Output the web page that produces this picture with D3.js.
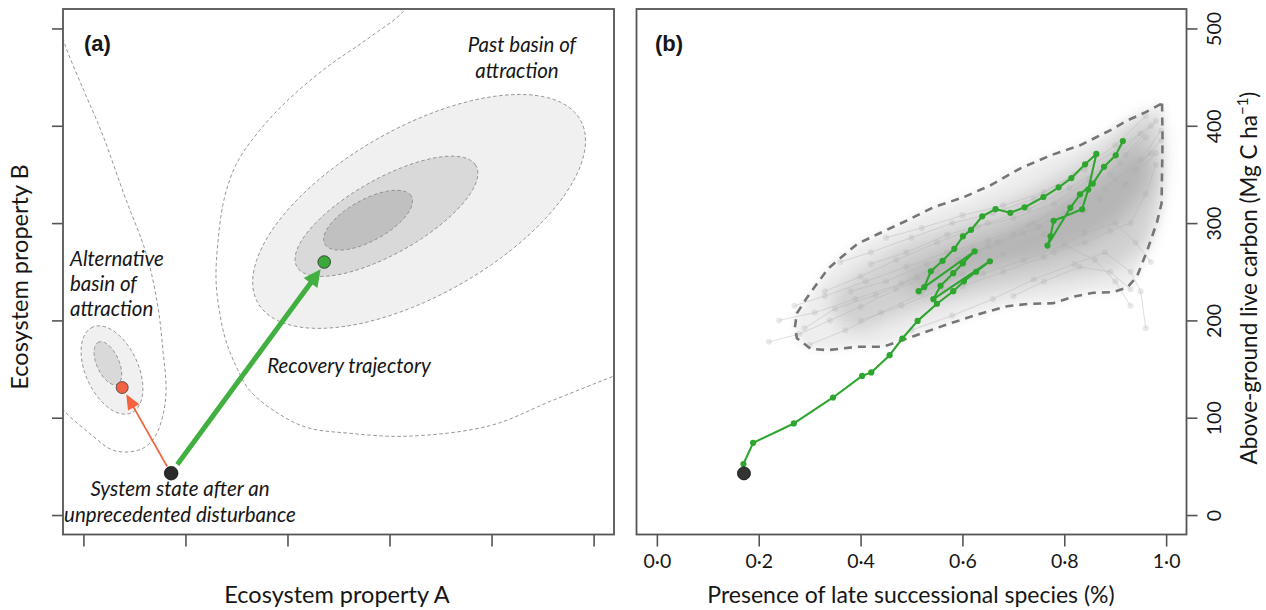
<!DOCTYPE html>
<html>
<head>
<meta charset="utf-8">
<script src="https://d3js.org/d3.v7.min.js"></script>
<style>
  body { margin: 0; background: #fff; }
  svg { display: block; }
  text { font-family: Lato, "Open Sans", sans-serif; fill: #161616; }
  text.panel { font-family: "Liberation Sans", Arial, sans-serif; font-weight: bold; }
</style>
</head>
<body>
<svg id="fig" width="1266" height="610"></svg>
<script>
// ---- panel (a): conceptual basins, data units on a 0-5 grid ----
const ticksA = [0, 1, 2, 3, 4, 5];

// filled basins: centre, semi-axes, tilt (degrees)
const pastBasin = [
  { cx: 3.29, cy: 3.12, a: 1.84, b: 0.85, tilt: 31.4 },
  { cx: 2.97, cy: 3.07, a: 1.02, b: 0.38, tilt: 31.0 },
  { cx: 2.79, cy: 3.03, a: 0.49, b: 0.21, tilt: 30.5 }
];
const altBasin = [
  { cx: 0.28, cy: 1.49, a: 0.48, b: 0.26, tilt: 112.7 },
  { cx: 0.24, cy: 1.56, a: 0.235, b: 0.11, tilt: 112.3 }
];

// outer dashed contours
const altOuter = [
  [-0.25, 5.08], [-0.18, 4.83], [0.005, 4.36], [0.18, 3.93], [0.40, 3.29], [0.62, 2.67],
  [0.73, 2.14], [0.78, 1.69], [0.81, 1.28], [0.78, 1.03], [0.70, 0.80], [0.59, 0.69],
  [0.46, 0.65], [0.28, 0.67], [0.06, 0.84], [-0.18, 1.06], [-0.33, 1.26]
];
const pastOuter = [
  [3.22, 5.34], [3.14, 5.18], [2.78, 4.89], [2.37, 4.59], [1.99, 4.25], [1.71, 3.93],
  [1.50, 3.61], [1.38, 3.25], [1.32, 2.82], [1.30, 2.41], [1.34, 2.05], [1.40, 1.78],
  [1.50, 1.52], [1.63, 1.28], [1.90, 1.05], [2.19, 0.90], [2.61, 0.84], [3.18, 0.81],
  [3.99, 0.92], [4.58, 1.17], [5.18, 1.42], [5.36, 1.49]
];

const disturbedState = [0.86, 0.43];
const altState = [0.38, 1.31];
const pastState = [2.36, 2.60];
const altArrow = { from: [0.82, 0.50], to: [0.42, 1.24] };
const recoveryArrow = { from: [0.92, 0.52], to: [2.325, 2.525] };

// ---- panel (b): simulated recovery ----
const xTicksB = [0, 0.2, 0.4, 0.6, 0.8, 1.0];
const xTickLabelsB = ["0·0", "0·2", "0·4", "0·6", "0·8", "1·0"];
const yTicksB = [0, 100, 200, 300, 400, 500];

const startB = [0.171, 42.8];

const greenPath = [
  [0.170, 52.4], [0.189, 74.2], [0.269, 94.1], [0.346, 120.8], [0.403, 143.0], [0.421, 146.5],
  [0.457, 164.3], [0.482, 181.4], [0.512, 199.5], [0.550, 217.1], [0.582, 230.0], [0.603, 240.2],
  [0.627, 250.0], [0.654, 260.8], [0.543, 221.8], [0.557, 235.6], [0.582, 248.5], [0.601, 258.7],
  [0.624, 271.0], [0.514, 230.0], [0.525, 234.1], [0.538, 250.5], [0.561, 261.3], [0.584, 273.6],
  [0.601, 286.4], [0.617, 293.1], [0.639, 307.0], [0.665, 314.4], [0.694, 310.6], [0.722, 316.2],
  [0.759, 326.8], [0.789, 336.8], [0.814, 346.3], [0.841, 360.4], [0.863, 371.1], [0.847, 334.4],
  [0.835, 314.2], [0.779, 302.4], [0.773, 286.4], [0.767, 276.9], [0.812, 315.7], [0.831, 329.6],
  [0.856, 340.6], [0.878, 357.8], [0.901, 369.6], [0.915, 384.3]
];

const envelope = [
  [0.992, 423.0], [0.993, 385.0], [0.992, 354.2], [0.991, 320.3], [0.982, 300.8], [0.963, 272.1],
  [0.943, 245.4], [0.924, 234.1], [0.896, 229.0], [0.857, 228.4], [0.818, 224.3], [0.778, 217.7],
  [0.733, 217.1], [0.688, 214.6], [0.635, 206.9], [0.571, 196.1], [0.504, 183.8], [0.445, 173.0],
  [0.394, 173.0], [0.335, 169.4], [0.302, 170.9], [0.275, 181.7], [0.271, 193.0], [0.275, 207.4],
  [0.294, 222.8], [0.318, 240.2], [0.337, 253.6], [0.355, 261.8], [0.394, 278.7], [0.433, 288.5],
  [0.492, 302.9], [0.543, 316.2], [0.602, 326.5], [0.655, 338.8], [0.714, 356.3], [0.773, 369.6],
  [0.831, 379.9], [0.890, 395.3], [0.924, 405.5], [0.959, 413.7]
];

// density of the other simulated trajectories
const cloudBand = [
  [0.341, 220.7], [0.400, 251.5], [0.478, 277.2], [0.576, 297.7], [0.675, 318.3], [0.773, 343.9],
  [0.871, 374.7], [0.969, 410.7], [0.988, 395.3], [0.984, 323.4], [0.949, 272.1], [0.890, 251.5],
  [0.792, 241.3], [0.675, 231.0], [0.576, 220.7], [0.478, 205.3], [0.380, 189.9]
];
const cloudCore = [
  [0.478, 241.3], [0.576, 272.1], [0.675, 292.6], [0.773, 318.3], [0.871, 349.1], [0.949, 379.9],
  [0.969, 349.1], [0.910, 302.9], [0.831, 277.2], [0.733, 261.8], [0.635, 251.5], [0.537, 231.0]
];

// a sample of the grey trajectories
const greyRuns = [
  [[0.22,178],[0.28,186],[0.34,200],[0.40,214],[0.47,232],[0.55,250],[0.63,270],[0.72,290],[0.80,310],[0.88,335],[0.95,365],[0.99,395]],
  [[0.30,175],[0.37,190],[0.44,208],[0.52,228],[0.60,248],[0.68,268],[0.76,288],[0.84,312],[0.92,340],[0.98,372]],
  [[0.33,230],[0.40,245],[0.47,262],[0.55,280],[0.63,296],[0.70,305],[0.78,320],[0.85,345],[0.92,370],[0.98,405]],
  [[0.36,260],[0.42,270],[0.50,285],[0.58,300],[0.66,310],[0.74,325],[0.82,350],[0.90,380],[0.96,410]],
  [[0.40,200],[0.48,215],[0.56,232],[0.64,248],[0.72,262],[0.80,278],[0.86,262],[0.90,240],[0.93,215]],
  [[0.50,190],[0.58,205],[0.66,222],[0.74,242],[0.82,258],[0.88,270],[0.93,250],[0.95,230],[0.96,192]],
  [[0.27,215],[0.33,225],[0.41,240],[0.49,255],[0.57,270],[0.65,282],[0.73,298],[0.81,318],[0.89,350],[0.96,388]],
  [[0.45,285],[0.52,295],[0.60,308],[0.68,318],[0.76,332],[0.84,355],[0.91,378],[0.97,400]],
  [[0.60,235],[0.68,250],[0.76,265],[0.84,290],[0.90,300],[0.94,280],[0.97,260]],
  [[0.38,230],[0.45,240],[0.53,258],[0.62,274],[0.70,288],[0.79,300],[0.87,325],[0.94,355],[0.99,385]],
  [[0.70,225],[0.76,240],[0.83,255],[0.89,250],[0.93,232]],
  [[0.24,200],[0.31,208],[0.39,222],[0.48,238],[0.56,258],[0.65,276],[0.74,300],[0.83,330],[0.91,362]],
  [[0.29,192],[0.35,212],[0.43,226],[0.51,244],[0.59,262],[0.67,280],[0.75,296],[0.83,322],[0.90,345],[0.97,372]],
  [[0.42,258],[0.49,270],[0.57,288],[0.65,300],[0.73,314],[0.81,336],[0.88,358],[0.95,392]],
  [[0.78,270],[0.84,280],[0.89,292],[0.93,300],[0.96,330],[0.98,360]]
];

// colours
const basinFill = ["#f0f0f0", "#d9d9d9", "#c0c0c0"];
const greenCol = "#2ea52e";
const arrowGreen = "#41b041";
const arrowRed = "#f4623e";
const frameCol = "#555";

const svg = d3.select("#fig");
const defs = svg.append("defs");
defs.append("filter").attr("id", "soft").attr("x", "-20%").attr("y", "-20%").attr("width", "140%").attr("height", "140%")
  .append("feGaussianBlur").attr("stdDeviation", 9);
defs.append("filter").attr("id", "softer").attr("x", "-20%").attr("y", "-20%").attr("width", "140%").attr("height", "140%")
  .append("feGaussianBlur").attr("stdDeviation", 4);

// scales
const plotTop = 9, plotBottom = 534.5;
const xA = d3.scaleLinear().domain([-0.2, 5.2]).range([63, 614]);
const yA = d3.scaleLinear().domain([-0.2, 5.2]).range([plotBottom, plotTop]);
const xB = d3.scaleLinear().domain([-0.04, 1.04]).range([636.5, 1186.5]);
const yB = d3.scaleLinear().domain([-20, 520]).range([plotBottom, plotTop]);

defs.append("clipPath").attr("id", "clipA").append("rect")
  .attr("x", 63).attr("y", plotTop).attr("width", 551).attr("height", plotBottom - plotTop);

function ellipsePts(e) {
  const th = e.tilt * Math.PI / 180;
  return d3.range(0, 360, 4).map(deg => {
    const t = deg * Math.PI / 180;
    return [e.cx + e.a * Math.cos(t) * Math.cos(th) - e.b * Math.sin(t) * Math.sin(th),
            e.cy + e.a * Math.cos(t) * Math.sin(th) + e.b * Math.sin(t) * Math.cos(th)];
  });
}

function drawArrow(g, arr, width, head, half, col) {
  const x1 = xA(arr.from[0]), y1 = yA(arr.from[1]);
  const x2 = xA(arr.to[0]), y2 = yA(arr.to[1]);
  const len = Math.hypot(x2 - x1, y2 - y1), ux = (x2 - x1) / len, uy = (y2 - y1) / len;
  const bx = x2 - ux * head, by = y2 - uy * head;
  g.append("line").attr("x1", x1).attr("y1", y1).attr("x2", bx + ux * 2).attr("y2", by + uy * 2)
    .attr("stroke", col).attr("stroke-width", width);
  g.append("path")
    .attr("d", `M${x2},${y2}L${bx - uy * half},${by + ux * half}L${bx + uy * half},${by - ux * half}Z`)
    .attr("fill", col);
}

// ================= panel (a) =================
const pa = svg.append("g");
const curveA = d3.line().x(d => xA(d[0])).y(d => yA(d[1])).curve(d3.curveCatmullRom.alpha(0.5));
const closedA = d3.line().x(d => xA(d[0])).y(d => yA(d[1])).curve(d3.curveLinearClosed);

const inA = pa.append("g").attr("clip-path", "url(#clipA)");
[altOuter, pastOuter].forEach(c => {
  inA.append("path").attr("d", curveA(c)).attr("fill", "none")
    .attr("stroke", "#8a8a8a").attr("stroke-width", 0.9).attr("stroke-dasharray", "3.5,2.5");
});
[pastBasin, altBasin].forEach(set => {
  set.forEach((e, i) => {
    inA.append("path").attr("d", closedA(ellipsePts(e)))
      .attr("fill", basinFill[i]).attr("stroke", "#8a8a8a")
      .attr("stroke-width", 0.9).attr("stroke-dasharray", "3.5,2.5");
  });
});

drawArrow(inA, altArrow, 1.8, 15, 6.5, arrowRed);
drawArrow(inA, recoveryArrow, 5, 17, 8.5, arrowGreen);

inA.append("circle").attr("cx", xA(altState[0])).attr("cy", yA(altState[1])).attr("r", 6)
  .attr("fill", "#f26243").attr("stroke", "#3a3a3a").attr("stroke-width", 0.8);
inA.append("circle").attr("cx", xA(pastState[0])).attr("cy", yA(pastState[1])).attr("r", 6.3)
  .attr("fill", "#3aa83a").attr("stroke", "#2a2a2a").attr("stroke-width", 0.8);
inA.append("circle").attr("cx", xA(disturbedState[0])).attr("cy", yA(disturbedState[1])).attr("r", 6.8)
  .attr("fill", "#2b2b2b").attr("stroke", "#111").attr("stroke-width", 0.8);

// annotations
const it = (g, x, y, s, anchor) => g.append("text").attr("x", x).attr("y", y)
  .attr("font-style", "italic").attr("font-size", 20.5).attr("text-anchor", anchor || "middle").text(s);
it(pa, 522, 52, "Past basin of");
it(pa, 517, 78, "attraction");
it(pa, 70, 266, "Alternative", "start");
it(pa, 70, 291, "basin of", "start");
it(pa, 70, 316, "attraction", "start");
it(pa, 349, 373, "Recovery trajectory");
it(pa, 180, 496, "System state after an");
it(pa, 180, 522, "unprecedented disturbance");

pa.append("text").attr("class", "panel").attr("x", 84).attr("y", 51).attr("font-size", 22).text("(a)");

pa.append("rect").attr("x", 63).attr("y", plotTop).attr("width", 551).attr("height", plotBottom - plotTop)
  .attr("fill", "none").attr("stroke", frameCol).attr("stroke-width", 1.8);

const axA1 = pa.append("g").attr("transform", "translate(63,0)")
  .call(d3.axisLeft(yA).tickValues(ticksA).tickSize(11).tickSizeOuter(0).tickFormat(""));
const axA2 = pa.append("g").attr("transform", `translate(0,${plotBottom})`)
  .call(d3.axisBottom(xA).tickValues(ticksA).tickSize(12).tickSizeOuter(0).tickFormat(""));
[axA1, axA2].forEach(a => {
  a.select(".domain").remove();
  a.attr("color", frameCol).selectAll("line").attr("stroke-width", 1.6);
});

pa.append("text").attr("x", 337).attr("y", 603).attr("font-size", 23.5).attr("text-anchor", "middle")
  .text("Ecosystem property A");
pa.append("text").attr("transform", "translate(28,277) rotate(-90)").attr("font-size", 23.5)
  .attr("text-anchor", "middle").text("Ecosystem property B");

// ================= panel (b) =================
const pb = svg.append("g");
const lineB = d3.line().x(d => xB(d[0])).y(d => yB(d[1]));
const smoothB = d3.line().x(d => xB(d[0])).y(d => yB(d[1])).curve(d3.curveCatmullRomClosed.alpha(0.5));

// cloud of other trajectories
pb.append("path").attr("d", smoothB(envelope)).attr("fill", "#eeeeee").attr("filter", "url(#softer)");
pb.append("path").attr("d", smoothB(cloudBand)).attr("fill", "#d0d0d0").attr("filter", "url(#soft)");
pb.append("path").attr("d", smoothB(cloudCore)).attr("fill", "#b6b6b6").attr("filter", "url(#soft)");

const runs = pb.append("g");
greyRuns.forEach(r => {
  runs.append("path").attr("d", lineB(r)).attr("fill", "none")
    .attr("stroke", "#b0b0b0").attr("stroke-opacity", 0.45).attr("stroke-width", 0.9);
  runs.selectAll(null).data(r).enter().append("circle")
    .attr("cx", d => xB(d[0])).attr("cy", d => yB(d[1])).attr("r", 3)
    .attr("fill", "#a8a8a8").attr("fill-opacity", 0.25);
});

pb.append("path").attr("d", d3.line().x(d => xB(d[0])).y(d => yB(d[1])).curve(d3.curveLinearClosed)(envelope))
  .attr("fill", "none").attr("stroke", "#757575").attr("stroke-width", 2.6)
  .attr("stroke-dasharray", "8,6");

// highlighted trajectory
pb.append("path").attr("d", lineB([startB].concat(greenPath))).attr("fill", "none")
  .attr("stroke", greenCol).attr("stroke-width", 2.1).attr("stroke-linejoin", "round");
pb.selectAll(".gp").data(greenPath).enter().append("circle").attr("class", "gp")
  .attr("cx", d => xB(d[0])).attr("cy", d => yB(d[1])).attr("r", 3.1).attr("fill", greenCol);
pb.append("circle").attr("cx", xB(startB[0])).attr("cy", yB(startB[1])).attr("r", 6.5)
  .attr("fill", "#333").attr("stroke", "#111").attr("stroke-width", 0.8);

pb.append("text").attr("class", "panel").attr("x", 655).attr("y", 51).attr("font-size", 22).text("(b)");

pb.append("rect").attr("x", 636.5).attr("y", plotTop).attr("width", 550).attr("height", plotBottom - plotTop)
  .attr("fill", "none").attr("stroke", frameCol).attr("stroke-width", 1.8);

const axB1 = pb.append("g").attr("transform", `translate(0,${plotBottom})`)
  .call(d3.axisBottom(xB).tickValues(xTicksB).tickSize(12).tickSizeOuter(0).tickPadding(8)
    .tickFormat((d, i) => xTickLabelsB[i]));
const axB2 = pb.append("g").attr("transform", "translate(1186.5,0)")
  .call(d3.axisRight(yB).tickValues(yTicksB).tickSize(11).tickSizeOuter(0).tickFormat(d3.format("d")));
[axB1, axB2].forEach(a => {
  a.select(".domain").remove();
  a.attr("color", frameCol).attr("font-size", 19.5);
  a.selectAll("line").attr("stroke-width", 1.6);
  a.selectAll("text").attr("fill", "#161616");
});
axB2.selectAll("text").attr("transform", "rotate(-90)").attr("x", 0).attr("y", 27)
  .attr("dy", null).attr("text-anchor", "middle").attr("dominant-baseline", "central");

pb.append("text").attr("x", 911).attr("y", 603).attr("font-size", 23).attr("text-anchor", "middle")
  .text("Presence of late successional species (%)");
const yt = pb.append("text").attr("transform", "translate(1257,278) rotate(-90)").attr("font-size", 22.5)
  .attr("text-anchor", "middle");
yt.append("tspan").text("Above-ground live carbon (Mg C ha");
yt.append("tspan").attr("dy", -9).attr("font-size", 15).text("−1");
yt.append("tspan").attr("dy", 9).text(")");
</script>
</body>
</html>
